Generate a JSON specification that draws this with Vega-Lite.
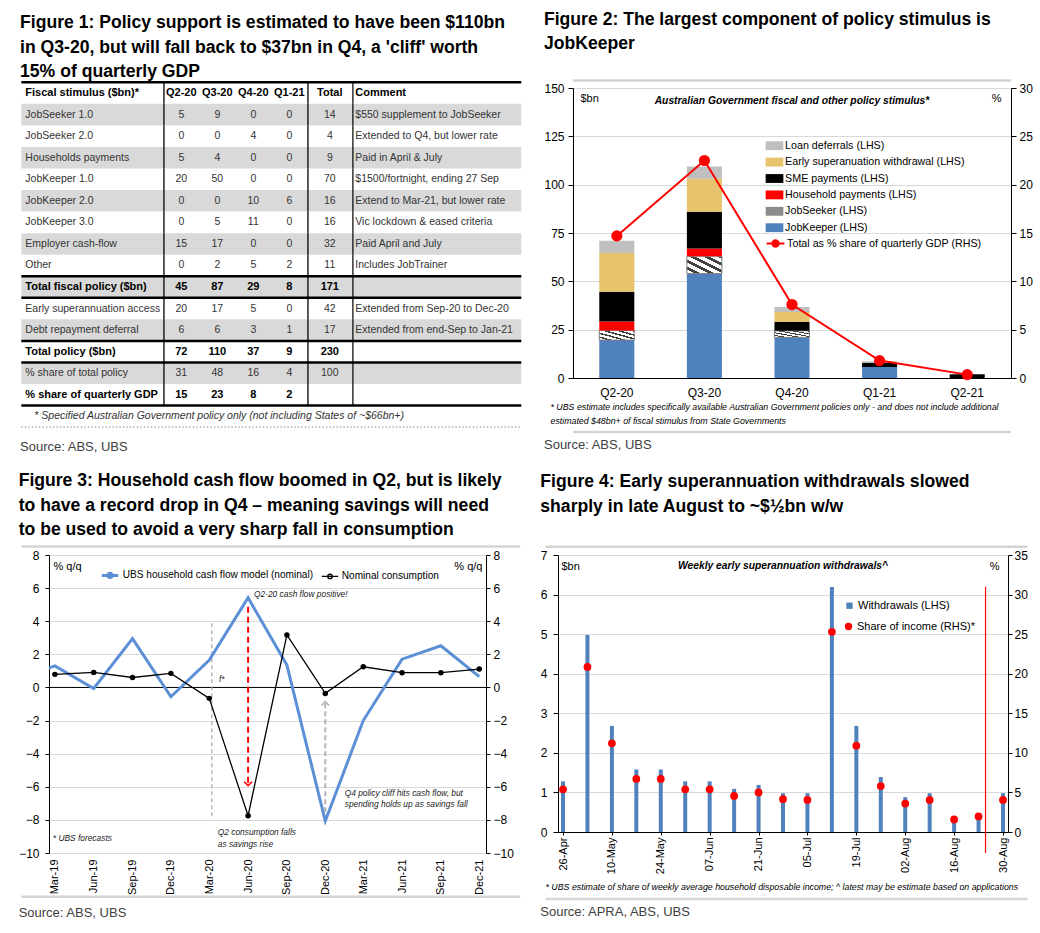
{
"$schema":"https://vega.github.io/schema/vega-lite/v6.json",
"background":"white",
"padding":{"left":18,"top":10,"right":0,"bottom":0},
"datasets":{
"tbl":[
{"r":0,"c":0,"t":"Fiscal stimulus ($bn)*"},{"r":0,"c":1,"t":"Q2-20"},{"r":0,"c":2,"t":"Q3-20"},{"r":0,"c":3,"t":"Q4-20"},{"r":0,"c":4,"t":"Q1-21"},{"r":0,"c":5,"t":"Total"},{"r":0,"c":6,"t":"Comment"},
{"r":1,"c":0,"t":"JobSeeker 1.0"},{"r":1,"c":1,"t":"5"},{"r":1,"c":2,"t":"9"},{"r":1,"c":3,"t":"0"},{"r":1,"c":4,"t":"0"},{"r":1,"c":5,"t":"14"},{"r":1,"c":6,"t":"$550 supplement to JobSeeker"},
{"r":2,"c":0,"t":"JobSeeker 2.0"},{"r":2,"c":1,"t":"0"},{"r":2,"c":2,"t":"0"},{"r":2,"c":3,"t":"4"},{"r":2,"c":4,"t":"0"},{"r":2,"c":5,"t":"4"},{"r":2,"c":6,"t":"Extended to Q4, but lower rate"},
{"r":3,"c":0,"t":"Households payments"},{"r":3,"c":1,"t":"5"},{"r":3,"c":2,"t":"4"},{"r":3,"c":3,"t":"0"},{"r":3,"c":4,"t":"0"},{"r":3,"c":5,"t":"9"},{"r":3,"c":6,"t":"Paid in April & July"},
{"r":4,"c":0,"t":"JobKeeper 1.0"},{"r":4,"c":1,"t":"20"},{"r":4,"c":2,"t":"50"},{"r":4,"c":3,"t":"0"},{"r":4,"c":4,"t":"0"},{"r":4,"c":5,"t":"70"},{"r":4,"c":6,"t":"$1500/fortnight, ending 27 Sep"},
{"r":5,"c":0,"t":"JobKeeper 2.0"},{"r":5,"c":1,"t":"0"},{"r":5,"c":2,"t":"0"},{"r":5,"c":3,"t":"10"},{"r":5,"c":4,"t":"6"},{"r":5,"c":5,"t":"16"},{"r":5,"c":6,"t":"Extend to Mar-21, but lower rate"},
{"r":6,"c":0,"t":"JobKeeper 3.0"},{"r":6,"c":1,"t":"0"},{"r":6,"c":2,"t":"5"},{"r":6,"c":3,"t":"11"},{"r":6,"c":4,"t":"0"},{"r":6,"c":5,"t":"16"},{"r":6,"c":6,"t":"Vic lockdown & eased criteria"},
{"r":7,"c":0,"t":"Employer cash-flow"},{"r":7,"c":1,"t":"15"},{"r":7,"c":2,"t":"17"},{"r":7,"c":3,"t":"0"},{"r":7,"c":4,"t":"0"},{"r":7,"c":5,"t":"32"},{"r":7,"c":6,"t":"Paid April and July"},
{"r":8,"c":0,"t":"Other"},{"r":8,"c":1,"t":"0"},{"r":8,"c":2,"t":"2"},{"r":8,"c":3,"t":"5"},{"r":8,"c":4,"t":"2"},{"r":8,"c":5,"t":"11"},{"r":8,"c":6,"t":"Includes JobTrainer"},
{"r":9,"c":0,"t":"Total fiscal policy ($bn)"},{"r":9,"c":1,"t":"45"},{"r":9,"c":2,"t":"87"},{"r":9,"c":3,"t":"29"},{"r":9,"c":4,"t":"8"},{"r":9,"c":5,"t":"171"},
{"r":10,"c":0,"t":"Early superannuation access"},{"r":10,"c":1,"t":"20"},{"r":10,"c":2,"t":"17"},{"r":10,"c":3,"t":"5"},{"r":10,"c":4,"t":"0"},{"r":10,"c":5,"t":"42"},{"r":10,"c":6,"t":"Extended from Sep-20 to Dec-20"},
{"r":11,"c":0,"t":"Debt repayment deferral"},{"r":11,"c":1,"t":"6"},{"r":11,"c":2,"t":"6"},{"r":11,"c":3,"t":"3"},{"r":11,"c":4,"t":"1"},{"r":11,"c":5,"t":"17"},{"r":11,"c":6,"t":"Extended from end-Sep to Jan-21"},
{"r":12,"c":0,"t":"Total policy ($bn)"},{"r":12,"c":1,"t":"72"},{"r":12,"c":2,"t":"110"},{"r":12,"c":3,"t":"37"},{"r":12,"c":4,"t":"9"},{"r":12,"c":5,"t":"230"},
{"r":13,"c":0,"t":"% share of total policy"},{"r":13,"c":1,"t":"31"},{"r":13,"c":2,"t":"48"},{"r":13,"c":3,"t":"16"},{"r":13,"c":4,"t":"4"},{"r":13,"c":5,"t":"100"},
{"r":14,"c":0,"t":"% share of quarterly GDP"},{"r":14,"c":1,"t":"15"},{"r":14,"c":2,"t":"23"},{"r":14,"c":3,"t":"8"},{"r":14,"c":4,"t":"2"},
{"r":15,"c":0,"t":"* Specified Australian Government policy only (not including States of ~$66bn+)"}
],
"f2bars":[
{"q":"Q2-20","comp":"JobKeeper (LHS)","k":1,"v":19.6},{"q":"Q2-20","comp":"JobSeeker (LHS)","k":2,"v":5},{"q":"Q2-20","comp":"Household payments (LHS)","k":3,"v":4.6},{"q":"Q2-20","comp":"SME payments (LHS)","k":4,"v":15.4},{"q":"Q2-20","comp":"Early superanuation withdrawal (LHS)","k":5,"v":20},{"q":"Q2-20","comp":"Loan deferrals (LHS)","k":6,"v":6.4},
{"q":"Q3-20","comp":"JobKeeper (LHS)","k":1,"v":54},{"q":"Q3-20","comp":"JobSeeker (LHS)","k":2,"v":9},{"q":"Q3-20","comp":"Household payments (LHS)","k":3,"v":4},{"q":"Q3-20","comp":"SME payments (LHS)","k":4,"v":19},{"q":"Q3-20","comp":"Early superanuation withdrawal (LHS)","k":5,"v":17},{"q":"Q3-20","comp":"Loan deferrals (LHS)","k":6,"v":6.4},
{"q":"Q4-20","comp":"JobKeeper (LHS)","k":1,"v":21},{"q":"Q4-20","comp":"JobSeeker (LHS)","k":2,"v":3.4},{"q":"Q4-20","comp":"SME payments (LHS)","k":4,"v":4.7},{"q":"Q4-20","comp":"Early superanuation withdrawal (LHS)","k":5,"v":5},{"q":"Q4-20","comp":"Loan deferrals (LHS)","k":6,"v":2.6},
{"q":"Q1-21","comp":"JobKeeper (LHS)","k":1,"v":5.7},{"q":"Q1-21","comp":"SME payments (LHS)","k":4,"v":2},{"q":"Q1-21","comp":"Loan deferrals (LHS)","k":6,"v":0.9},
{"q":"Q2-21","comp":"SME payments (LHS)","k":4,"v":2}
],
"f2line":[
{"q":"Q2-20","pct":14.7},{"q":"Q3-20","pct":22.5},{"q":"Q4-20","pct":7.6},{"q":"Q1-21","pct":1.8},{"q":"Q2-21","pct":0.35}
],
"f3":[
{"d":"2018-12-15","s":"UBS household cash flow model (nominal)","v":0.5},
{"d":"2019-03-15","s":"UBS household cash flow model (nominal)","v":1.3},
{"d":"2019-06-15","s":"UBS household cash flow model (nominal)","v":-0.06},
{"d":"2019-09-15","s":"UBS household cash flow model (nominal)","v":2.95},
{"d":"2019-12-15","s":"UBS household cash flow model (nominal)","v":-0.56},
{"d":"2020-03-15","s":"UBS household cash flow model (nominal)","v":1.65},
{"d":"2020-06-15","s":"UBS household cash flow model (nominal)","v":5.42},
{"d":"2020-09-15","s":"UBS household cash flow model (nominal)","v":1.35},
{"d":"2020-12-15","s":"UBS household cash flow model (nominal)","v":-8.07},
{"d":"2021-03-15","s":"UBS household cash flow model (nominal)","v":-2.0},
{"d":"2021-06-15","s":"UBS household cash flow model (nominal)","v":1.71},
{"d":"2021-09-15","s":"UBS household cash flow model (nominal)","v":2.52},
{"d":"2021-12-15","s":"UBS household cash flow model (nominal)","v":0.65},
{"d":"2019-03-15","s":"Nominal consumption","v":0.79},
{"d":"2019-06-15","s":"Nominal consumption","v":0.91},
{"d":"2019-09-15","s":"Nominal consumption","v":0.6},
{"d":"2019-12-15","s":"Nominal consumption","v":0.85},
{"d":"2020-03-15","s":"Nominal consumption","v":-0.66},
{"d":"2020-06-15","s":"Nominal consumption","v":-7.75},
{"d":"2020-09-15","s":"Nominal consumption","v":3.17},
{"d":"2020-12-15","s":"Nominal consumption","v":-0.36},
{"d":"2021-03-15","s":"Nominal consumption","v":1.25},
{"d":"2021-06-15","s":"Nominal consumption","v":0.89},
{"d":"2021-09-15","s":"Nominal consumption","v":0.89},
{"d":"2021-12-15","s":"Nominal consumption","v":1.11}
],
"f3ann":[
{"k":"g1","d":"2020-03-21","y":3.87,"y2":-7.8},
{"k":"g2","d":"2020-12-15","y":-0.95,"y2":-7.9},
{"k":"r","d":"2020-06-15","y":4.88,"y2":-5.84}
],
"f3txt":[
{"d":"2020-06-29","y":5.62,"t":"Q2-20 cash flow positive!"},
{"d":"2020-04-07","y":0.54,"t":"f*"},
{"d":"2019-03-10","y":-9.12,"t":"* UBS forecasts"},
{"d":"2020-04-04","y":-8.72,"t":"Q2 consumption falls"},
{"d":"2020-04-04","y":-9.43,"t":"as savings rise"},
{"d":"2021-01-30","y":-6.36,"t":"Q4 policy cliff hits cash flow, but"},
{"d":"2021-01-30","y":-7.07,"t":"spending holds up as savings fall"}
],
"f4":[
{"d":"2020-04-26","w":1.28,"s":5.4},{"d":"2020-05-03","w":4.98,"s":20.86},{"d":"2020-05-10","w":2.68,"s":11.2},{"d":"2020-05-17","w":1.58,"s":6.7},{"d":"2020-05-24","w":1.58,"s":6.7},{"d":"2020-05-31","w":1.28,"s":5.4},{"d":"2020-06-07","w":1.28,"s":5.4},{"d":"2020-06-14","w":1.09,"s":4.56},{"d":"2020-06-21","w":1.19,"s":5.0},{"d":"2020-06-28","w":0.98,"s":4.15},{"d":"2020-07-05","w":0.98,"s":4.05},{"d":"2020-07-12","w":6.19,"s":25.3},{"d":"2020-07-19","w":2.68,"s":10.9},{"d":"2020-07-26","w":1.39,"s":5.8},{"d":"2020-08-02","w":0.88,"s":3.6},{"d":"2020-08-09","w":0.98,"s":4.05},{"d":"2020-08-16","w":0.3,"s":1.58},{"d":"2020-08-23","w":0.4,"s":1.96},{"d":"2020-08-30","w":0.98,"s":4.05}
]
},
"resolve":{"scale":{"color":"independent","fill":"independent","stroke":"independent","strokeWidth":"independent"},"legend":{"color":"independent","fill":"independent","stroke":"independent","strokeWidth":"independent"}},
"vconcat":[
{"hconcat":[
 {
  "title":{"text":["Figure 1: Policy support is estimated to have been $110bn","in Q3-20, but will fall back to $37bn in Q4, a 'cliff' worth","15% of quarterly GDP"],"offset":0.5},
  "vconcat":[{
   "width":472.3,"height":339.1,
   "title":{"text":"Source:  ABS, UBS","orient":"bottom","anchor":"start","font":"Liberation Sans","fontSize":13,"fontWeight":"normal","color":"#404040","offset":13},
   "data":{"name":"tbl"},
   "encoding":{"y":{"field":"r","type":"ordinal","scale":{"domain":[0,1,2,3,4,5,6,7,8,9,10,11,12,13,14,15],"range":[-5.7,339.1],"paddingInner":0,"paddingOuter":0},"axis":null}},
   "layer":[
    {"transform":[{"filter":"datum.c == 0 && datum.r % 2 == 1 && datum.r < 15"}],
     "mark":{"type":"rect","color":"#d9d9d9"},
     "encoding":{"x":{"datum":-1,"type":"quantitative","scale":{"type":"linear","domain":[-1,0,0.5,1,4,4.5,5,5.5,6,7],"range":[-27.7,-23.7,114.3,132.3,240.3,258.3,280.8,303.3,306.3,472.3],"nice":false,"zero":false},"axis":null},"x2":{"datum":7}}},
    {"transform":[{"filter":"datum.c == 0 && datum.r <= 14"}],
     "mark":{"type":"rect","color":"#000000"},
     "encoding":{"x":{"datum":0.5,"type":"quantitative"},"x2":{"datum":0.536}}},
    {"transform":[{"filter":"datum.c == 0 && datum.r <= 14"}],
     "mark":{"type":"rect","color":"#000000"},
     "encoding":{"x":{"datum":4.5,"type":"quantitative"},"x2":{"datum":4.529}}},
    {"transform":[{"filter":"datum.c == 0 && datum.r <= 14"}],
     "mark":{"type":"rect","color":"#000000"},
     "encoding":{"x":{"datum":5.5,"type":"quantitative"},"x2":{"datum":5.7}}},
    {"transform":[{"filter":"datum.c == 0 && indexof([0,9,10,12,13,15], datum.r) >= 0"}],
     "mark":{"type":"rule","color":"#000000","strokeWidth":2.5},
     "encoding":{"x":{"datum":-1,"type":"quantitative"},"x2":{"datum":7},"y":{"field":"r","type":"ordinal","bandPosition":0}}},
    {"transform":[{"filter":"datum.r == 15"}],
     "mark":{"type":"rule","color":"#b0b0b0","strokeWidth":1.5,"strokeDash":[1.5,2]},
     "encoding":{"x":{"datum":-1,"type":"quantitative"},"x2":{"datum":7},"y":{"field":"r","type":"ordinal","bandPosition":1}}},
    {"transform":[{"filter":"(datum.c == 0 || datum.c == 6) && indexof([0,9,12,14,15], datum.r) < 0"}],
     "mark":{"type":"text","align":"left","baseline":"middle","font":"Liberation Sans","fontSize":10.5,"color":"#333333"},
     "encoding":{"x":{"field":"c","type":"quantitative"},"text":{"field":"t"}}},
    {"transform":[{"filter":"datum.c >= 1 && datum.c <= 5 && indexof([0,9,12,14], datum.r) < 0"}],
     "mark":{"type":"text","align":"center","baseline":"middle","font":"Liberation Sans","fontSize":10.5,"color":"#333333"},
     "encoding":{"x":{"field":"c","type":"quantitative"},"text":{"field":"t"}}},
    {"transform":[{"filter":"(datum.c == 0 || datum.c == 6) && indexof([0,9,12,14], datum.r) >= 0"}],
     "mark":{"type":"text","align":"left","baseline":"middle","font":"Liberation Sans","fontSize":11,"fontWeight":"bold","color":"#000000"},
     "encoding":{"x":{"field":"c","type":"quantitative"},"text":{"field":"t"}}},
    {"transform":[{"filter":"datum.c >= 1 && datum.c <= 5 && indexof([0,9,12,14], datum.r) >= 0"}],
     "mark":{"type":"text","align":"center","baseline":"middle","font":"Liberation Sans","fontSize":11,"fontWeight":"bold","color":"#000000"},
     "encoding":{"x":{"field":"c","type":"quantitative"},"text":{"field":"t"}}},
    {"transform":[{"filter":"datum.r == 15"}],
     "mark":{"type":"text","align":"left","baseline":"middle","dx":9,"font":"Liberation Sans","fontSize":10.5,"fontStyle":"italic","color":"#333333"},
     "encoding":{"x":{"field":"c","type":"quantitative"},"text":{"field":"t"}}}
   ]
  }]
 },
 {
  "title":{"text":["Figure 2: The largest component of policy stimulus is","JobKeeper"],"offset":26.7},
  "resolve":{"scale":{"color":"independent","fill":"independent","stroke":"independent"},"legend":{"color":"independent","fill":"independent","stroke":"independent"}},
  "vconcat":[{
   "title":{"text":"Source:  ABS, UBS","orient":"bottom","anchor":"start","font":"Liberation Sans","fontSize":13,"fontWeight":"normal","color":"#404040","offset":6},
   "resolve":{"scale":{"color":"independent","fill":"independent","stroke":"independent"},"legend":{"color":"independent","fill":"independent","stroke":"independent"}},
   "vconcat":[{
    "width":438,"height":290,
    "title":{"text":"Australian Government fiscal and other policy stimulus*","anchor":"middle","frame":"group","font":"Liberation Sans","fontSize":10.3,"fontStyle":"italic","fontWeight":"bold","color":"#000000","offset":-27},
    "layer":[
     {"data":{"values":[{}]},
      "mark":{"type":"rule","color":"#d4d4d4","strokeWidth":2.5},
      "encoding":{"y":{"datum":153.9,"type":"quantitative","scale":{"domain":[0,150],"nice":false},"axis":null}}},
     {"data":{"values":[{}]},
      "mark":{"type":"rule","color":"#d4d4d4","strokeWidth":2.5},
      "encoding":{"y":{"datum":-27.9,"type":"quantitative","scale":{"domain":[0,150],"nice":false},"axis":null}}},
     {"data":{"name":"f2bars"},
      "mark":{"type":"bar","strokeWidth":1},
      "encoding":{
       "x":{"field":"q","type":"nominal","sort":null,"scale":{"domain":["Q2-20","Q3-20","Q4-20","Q1-21","Q2-21"],"paddingInner":0.6,"paddingOuter":0.3},
            "axis":{"labelAngle":0,"ticks":false,"labelPadding":9,"labelFontSize":12,"title":["* UBS estimate includes specifically available Australian Government policies only - and does not  include additional","estimated  $48bn+ of fiscal stimulus from State Governments"],"titleFont":"Liberation Sans","titleFontSize":8.8,"titleFontStyle":"italic","titleX":-23,"titleY":24,"titleAlign":"left","titleBaseline":"top","titleLineHeight":14.5}},
       "y":{"field":"v","type":"quantitative","stack":"zero","scale":{"domain":[0,150],"nice":false},
            "axis":{"values":[0,25,50,75,100,125,150],"grid":true,"tickSize":5,"labelPadding":4,"title":"$bn","titleAngle":0,"titleX":7,"titleY":10,"titleAlign":"left","titleBaseline":"middle","titleFontSize":11}},
       "fill":{"condition":{"test":"datum.comp === 'JobSeeker (LHS)'","value":{"gradient":"linear","x1":0,"y1":1,"x2":1,"y2":0,"stops":[{"offset":0,"color":"#ffffff"},{"offset":0.12,"color":"#ffffff"},{"offset":0.12,"color":"#404040"},{"offset":0.2,"color":"#404040"},{"offset":0.2,"color":"#ffffff"},{"offset":0.32,"color":"#ffffff"},{"offset":0.32,"color":"#404040"},{"offset":0.4,"color":"#404040"},{"offset":0.4,"color":"#ffffff"},{"offset":0.52,"color":"#ffffff"},{"offset":0.52,"color":"#404040"},{"offset":0.6,"color":"#404040"},{"offset":0.6,"color":"#ffffff"},{"offset":0.72,"color":"#ffffff"},{"offset":0.72,"color":"#404040"},{"offset":0.8,"color":"#404040"},{"offset":0.8,"color":"#ffffff"},{"offset":0.92,"color":"#ffffff"},{"offset":0.92,"color":"#404040"},{"offset":1,"color":"#404040"}]}},
               "field":"comp","type":"nominal",
               "scale":{"domain":["Loan deferrals (LHS)","Early superanuation withdrawal (LHS)","SME payments (LHS)","Household payments (LHS)","JobSeeker (LHS)","JobKeeper (LHS)"],"range":["#bfbfbf","#e6c36c","#000000","#ff0000","#8c8c8c","#4f81bd"]},
               "legend":{"title":null,"orient":"none","legendX":195,"legendY":51.2,"symbolType":"M-1.4,-0.7H1.4V0.7H-1.4Z","symbolSize":160,"symbolStrokeWidth":0,"labelOffset":4.1,"rowPadding":4.4,"labelFontSize":10.7,"labelLimit":300,"padding":0}},
       "stroke":{"condition":{"test":"datum.comp === 'JobSeeker (LHS)'","value":"#7f7f7f"},"value":null},
       "order":{"field":"k","type":"quantitative","sort":"ascending"}
      }},
     {"data":{"name":"f2line"},
      "mark":{"type":"line","color":"#ff0000","strokeWidth":2,"point":{"filled":true,"size":85,"color":"#ff0000"}},
      "encoding":{
       "x":{"field":"q","type":"nominal","sort":null},
       "y":{"field":"pct","type":"quantitative","scale":{"domain":[0,30],"nice":false},
            "axis":{"orient":"right","values":[0,5,10,15,20,25,30],"grid":false,"tickSize":5,"labelPadding":3,"title":"%","titleAngle":0,"titleX":-10,"titleY":10,"titleAlign":"right","titleBaseline":"middle","titleFontSize":11}},
       "stroke":{"datum":"Total as % share of quarterly GDP (RHS)","type":"nominal","scale":{"range":["#ff0000"]},
                 "legend":{"title":null,"orient":"none","legendX":195,"legendY":148,"symbolType":"M-1.4,0H1.4M0.5,0A0.5,0.5,0,1,1,-0.5,0A0.5,0.5,0,1,1,0.5,0Z","symbolSize":160,"symbolStrokeWidth":2,"symbolFillColor":"#ff0000","labelOffset":4.1,"labelFontSize":10.7,"labelLimit":300,"padding":0}}
      }}
    ],
    "resolve":{"scale":{"y":"independent"}}
   }]
  }]
 }
],"spacing":20,
"resolve":{"scale":{"color":"independent","fill":"independent","stroke":"independent","strokeWidth":"independent"},"legend":{"color":"independent","fill":"independent","stroke":"independent","strokeWidth":"independent"}}},
{"hconcat":[
 {
  "title":{"text":["Figure 3: Household cash flow boomed in Q2, but is likely","to have a record drop in Q4 – meaning savings will need","to be used to avoid a very sharp fall in consumption"],"offset":6.5},
  "resolve":{"scale":{"color":"independent","strokeWidth":"independent"},"legend":{"color":"independent","strokeWidth":"independent"}},
  "vconcat":[{
   "title":{"text":"Source:  ABS, UBS","orient":"bottom","anchor":"start","font":"Liberation Sans","fontSize":13,"fontWeight":"normal","color":"#404040","offset":8.5},
   "resolve":{"scale":{"color":"independent","strokeWidth":"independent"},"legend":{"color":"independent","strokeWidth":"independent"}},
   "vconcat":[{
    "width":437,"height":298,
    "layer":[
     {"data":{"values":[{}]},
      "mark":{"type":"rule","color":"#d4d4d4","strokeWidth":2.5},
      "encoding":{"x":{"datum":{"year":2018,"month":12,"date":26,"utc":true},"type":"temporal","scale":{"type":"utc","domain":[{"year":2019,"month":3,"date":1,"utc":true},{"year":2021,"month":12,"date":31,"utc":true}],"nice":false},
                       "axis":{"values":[{"year":2019,"month":3,"date":15,"utc":true},{"year":2019,"month":6,"date":15,"utc":true},{"year":2019,"month":9,"date":15,"utc":true},{"year":2019,"month":12,"date":15,"utc":true},{"year":2020,"month":3,"date":15,"utc":true},{"year":2020,"month":6,"date":15,"utc":true},{"year":2020,"month":9,"date":15,"utc":true},{"year":2020,"month":12,"date":15,"utc":true},{"year":2021,"month":3,"date":15,"utc":true},{"year":2021,"month":6,"date":15,"utc":true},{"year":2021,"month":9,"date":15,"utc":true},{"year":2021,"month":12,"date":15,"utc":true}],
                               "tickCount":40,"format":"%b-%y","labelAngle":-90,"labelAlign":"right","labelBaseline":"middle","labelOverlap":false,"ticks":false,"domain":false,"grid":false,"labelPadding":6,"labelFontSize":11,"title":null}},
                  "x2":{"datum":{"year":2022,"month":3,"date":22,"utc":true}},
                  "y":{"datum":8.52,"type":"quantitative","scale":{"domain":[-10,8],"nice":false},"axis":null}}},
     {"data":{"values":[{}]},
      "mark":{"type":"rule","color":"#d4d4d4","strokeWidth":2.5},
      "encoding":{"x":{"datum":{"year":2018,"month":12,"date":26,"utc":true},"type":"temporal"},
                  "x2":{"datum":{"year":2022,"month":3,"date":22,"utc":true}},
                  "y":{"datum":-12.65,"type":"quantitative","scale":{"domain":[-10,8],"nice":false},"axis":null}}},
     {"data":{"values":[{}]},
      "mark":{"type":"rule","color":"#000000","strokeWidth":1},
      "encoding":{"y":{"datum":0,"type":"quantitative","scale":{"domain":[-10,8],"nice":false},"axis":null}}},
     {"data":{"name":"f3ann"},"transform":[{"filter":"datum.k === 'g1'"}],
      "mark":{"type":"rule","color":"#a6a6a6","strokeWidth":1.2,"strokeDash":[4,3]},
      "encoding":{"x":{"field":"d","type":"temporal"},
                  "y":{"field":"y","type":"quantitative","scale":{"domain":[-10,8],"nice":false},"axis":null},"y2":{"field":"y2"}}},
     {"data":{"name":"f3ann"},"transform":[{"filter":"datum.k === 'g2'"}],
      "mark":{"type":"rule","color":"#b3b3b3","strokeWidth":2,"strokeDash":[5,3]},
      "encoding":{"x":{"field":"d","type":"temporal"},
                  "y":{"field":"y","type":"quantitative","scale":{"domain":[-10,8],"nice":false},"axis":null},"y2":{"field":"y2"}}},
     {"data":{"name":"f3ann"},"transform":[{"filter":"datum.k === 'r'"}],
      "mark":{"type":"rule","color":"#ff0000","strokeWidth":2,"strokeDash":[6,4]},
      "encoding":{"x":{"field":"d","type":"temporal"},
                  "y":{"field":"y","type":"quantitative","scale":{"domain":[-10,8],"nice":false},"axis":null},"y2":{"field":"y2"}}},
     {"data":{"name":"f3ann"},"transform":[{"filter":"datum.k === 'r'"}],
      "mark":{"type":"point","shape":"M-1,-0.6L0,0.4L1,-0.6","filled":false,"size":60,"strokeWidth":1.6,"color":"#ff0000","opacity":1},
      "encoding":{"x":{"field":"d","type":"temporal"},
                  "y":{"field":"y2","type":"quantitative","scale":{"domain":[-10,8],"nice":false},"axis":null}}},
     {"data":{"name":"f3ann"},"transform":[{"filter":"datum.k === 'g2'"}],
      "mark":{"type":"point","shape":"M-1,0.6L0,-0.4L1,0.6","filled":false,"size":60,"strokeWidth":1.6,"color":"#b3b3b3","opacity":1},
      "encoding":{"x":{"field":"d","type":"temporal"},
                  "y":{"field":"y","type":"quantitative","scale":{"domain":[-10,8],"nice":false},"axis":null}}},
     {"data":{"name":"f3"},
      "mark":{"type":"line","clip":true},
      "encoding":{
       "x":{"field":"d","type":"temporal"},
       "y":{"field":"v","type":"quantitative","scale":{"domain":[-10,8],"nice":false},
            "axis":{"orient":"left","values":[-10,-8,-6,-4,-2,0,2,4,6,8],"grid":true,"tickSize":4,"labelPadding":6,"title":"% q/q","titleAngle":0,"titleX":4,"titleY":11,"titleAlign":"left","titleBaseline":"middle","titleFontSize":11}},
       "color":{"field":"s","type":"nominal","scale":{"domain":["UBS household cash flow model (nominal)","Nominal consumption"],"range":["#5b8fd6","#000000"]},
                "legend":{"title":null,"orient":"none","direction":"horizontal","legendX":53,"legendY":12,"symbolType":"M-1.3,0H1.3M0.35,0A0.35,0.35,0,1,1,-0.35,0A0.35,0.35,0,1,1,0.35,0Z","symbolSize":160,"symbolStrokeWidth":2,"labelOffset":4.8,"columnPadding":6,"labelFontSize":10.1,"labelLimit":300,"padding":0}},
       "strokeWidth":{"field":"s","type":"nominal","scale":{"domain":["UBS household cash flow model (nominal)","Nominal consumption"],"range":[3,1.3]},"legend":null}
      }},
     {"data":{"name":"f3"},"transform":[{"filter":"datum.s === 'Nominal consumption'"}],
      "mark":{"type":"point","filled":true,"size":30,"color":"#000000","opacity":1},
      "encoding":{
       "x":{"field":"d","type":"temporal"},
       "y":{"field":"v","type":"quantitative","scale":{"domain":[-10,8],"nice":false},
            "axis":{"orient":"right","values":[-10,-8,-6,-4,-2,0,2,4,6,8],"grid":false,"tickSize":4,"labelPadding":3,"title":"% q/q","titleAngle":0,"titleX":-4,"titleY":11,"titleAlign":"right","titleBaseline":"middle","titleFontSize":11}}
      }},
     {"data":{"name":"f3txt"},
      "mark":{"type":"text","align":"left","baseline":"middle","fontStyle":"italic","fontSize":8.4,"font":"Liberation Sans","color":"#1a1a1a"},
      "encoding":{"x":{"field":"d","type":"temporal"},
                  "y":{"field":"y","type":"quantitative","scale":{"domain":[-10,8],"nice":false},"axis":null},
                  "text":{"field":"t"}}}
    ],
    "resolve":{"scale":{"y":"independent"}}
   }]
  }]
 },
 {
  "title":{"text":["Figure 4: Early superannuation withdrawals slowed","sharply in late August to ~$½bn w/w"],"offset":30},
  "resolve":{"scale":{"color":"independent","fill":"independent"},"legend":{"color":"independent","fill":"independent"}},
  "vconcat":[{
   "title":{"text":"Source:  APRA, ABS, UBS","orient":"bottom","anchor":"start","font":"Liberation Sans","fontSize":13,"fontWeight":"normal","color":"#404040","offset":5.5},
   "resolve":{"scale":{"color":"independent","fill":"independent"},"legend":{"color":"independent","fill":"independent"}},
   "vconcat":[{
    "width":450,"height":277,
    "title":{"text":"Weekly early superannuation withdrawals^","anchor":"middle","frame":"group","font":"Liberation Sans","fontSize":10.3,"fontStyle":"italic","fontWeight":"bold","color":"#000000","offset":-26},
    "layer":[
     {"data":{"values":[{}]},
      "mark":{"type":"rule","color":"#d4d4d4","strokeWidth":2.5},
      "encoding":{"x":{"datum":{"year":2020,"month":4,"date":21,"utc":true},"type":"temporal","scale":{"type":"utc","domain":[{"year":2020,"month":4,"date":26,"utc":true},{"year":2020,"month":8,"date":30,"utc":true}],"nice":false}},
                  "x2":{"datum":{"year":2020,"month":9,"date":6,"utc":true}},
                  "y":{"datum":7.21,"type":"quantitative","scale":{"domain":[0,7],"nice":false},"axis":null}}},
     {"data":{"values":[{}]},
      "mark":{"type":"rule","color":"#d4d4d4","strokeWidth":2.5},
      "encoding":{"x":{"datum":{"year":2020,"month":4,"date":21,"utc":true},"type":"temporal"},
                  "x2":{"datum":{"year":2020,"month":9,"date":6,"utc":true}},
                  "y":{"datum":-1.69,"type":"quantitative","scale":{"domain":[0,7],"nice":false},"axis":null}}},
     {"data":{"name":"f4"},
      "mark":{"type":"bar","size":4},
      "encoding":{
       "x":{"field":"d","type":"temporal",
            "axis":{"values":[{"year":2020,"month":4,"date":26,"utc":true},{"year":2020,"month":5,"date":10,"utc":true},{"year":2020,"month":5,"date":24,"utc":true},{"year":2020,"month":6,"date":7,"utc":true},{"year":2020,"month":6,"date":21,"utc":true},{"year":2020,"month":7,"date":5,"utc":true},{"year":2020,"month":7,"date":19,"utc":true},{"year":2020,"month":8,"date":2,"utc":true},{"year":2020,"month":8,"date":16,"utc":true},{"year":2020,"month":8,"date":30,"utc":true}],
                    "tickCount":40,"format":"%d-%b","labelAngle":-90,"labelAlign":"right","labelBaseline":"middle","labelOverlap":false,"tickSize":3,"labelPadding":2,"labelFontSize":11,"grid":false,
                    "title":"* UBS estimate of share of weekly average household disposable income; ^ latest may be estimate based on applications","titleFont":"Liberation Sans","titleFontSize":8.8,"titleFontStyle":"italic","titleX":-13,"titleY":50,"titleAlign":"left","titleBaseline":"top"}},
       "y":{"field":"w","type":"quantitative","scale":{"domain":[0,7],"nice":false},
            "axis":{"values":[0,1,2,3,4,5,6,7],"grid":true,"tickSize":5,"labelPadding":6,"title":"$bn","titleAngle":0,"titleX":3,"titleY":11,"titleAlign":"left","titleBaseline":"middle","titleFontSize":11}},
       "fill":{"datum":"Withdrawals (LHS)","type":"nominal","scale":{"range":["#4f81bd"]},
               "legend":{"title":null,"orient":"none","legendX":286,"legendY":45.2,"symbolType":"square","symbolSize":40,"labelOffset":3,"labelFontSize":11,"labelLimit":300,"padding":0}}
      }},
     {"data":{"values":[{}]},
      "mark":{"type":"rule","color":"#ff0000","strokeWidth":1.2},
      "encoding":{"x":{"datum":{"year":2020,"month":8,"date":25,"utc":true},"type":"temporal"},
                  "y":{"datum":6.2,"type":"quantitative","scale":{"domain":[0,7],"nice":false},"axis":null},"y2":{"datum":-0.53}}},
     {"data":{"name":"f4"},
      "mark":{"type":"point","filled":true,"size":60,"opacity":1},
      "encoding":{
       "x":{"field":"d","type":"temporal"},
       "y":{"field":"s","type":"quantitative","scale":{"domain":[0,35],"nice":false},
            "axis":{"orient":"right","values":[0,5,10,15,20,25,30,35],"grid":false,"tickSize":4,"labelPadding":2,"title":"%","titleAngle":0,"titleX":-9,"titleY":11,"titleAlign":"right","titleBaseline":"middle","titleFontSize":11}},
       "color":{"datum":"Share of income (RHS)*","type":"nominal","scale":{"range":["#ff0000"]},
                "legend":{"title":null,"orient":"none","legendX":285,"legendY":66,"symbolType":"circle","symbolSize":55,"labelOffset":3,"labelFontSize":11,"labelLimit":300,"padding":0}}
      }}
    ],
    "resolve":{"scale":{"y":"independent"}}
   }]
  }]
 }
],"spacing":18,
"resolve":{"scale":{"color":"independent","fill":"independent","stroke":"independent","strokeWidth":"independent"},"legend":{"color":"independent","fill":"independent","stroke":"independent","strokeWidth":"independent"}}}
],
"spacing":18,
"config":{
 "view":{"stroke":null},
 "font":"Liberation Sans",
 "title":{"font":"Liberation Sans","fontSize":17.6,"fontWeight":"bold","color":"#000000","anchor":"start","lineHeight":24.4},
 "axis":{"labelFont":"Liberation Sans","labelFontSize":12,"labelColor":"#000000","domainColor":"#000000","tickColor":"#000000","gridColor":"#d9d9d9","titleFont":"Liberation Sans","titleFontWeight":"normal","titleColor":"#000000","labelFlush":false,"labelOverlap":false},
 "legend":{"labelFont":"Liberation Sans","labelFontSize":11,"labelColor":"#000000","labelLimit":300,"padding":0}
}
}
